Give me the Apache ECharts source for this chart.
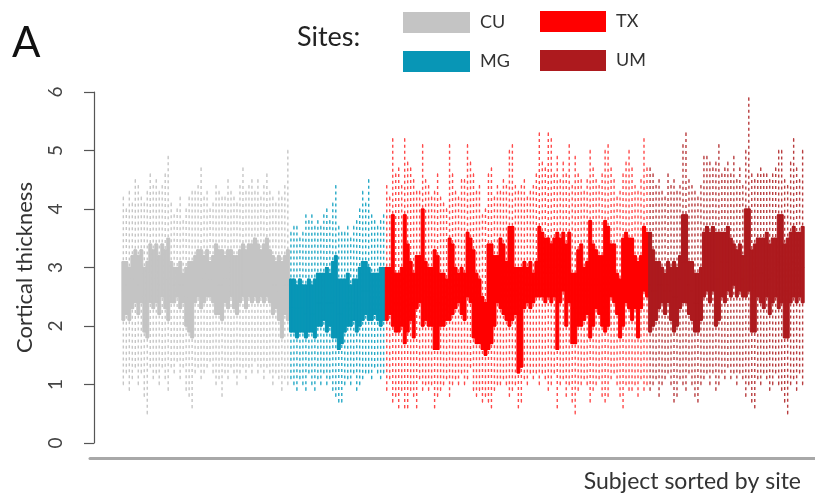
<!DOCTYPE html>
<html>
<head>
<meta charset="utf-8">
<script src="https://cdn.jsdelivr.net/npm/echarts/dist/echarts.min.js"></script>
<style>
  html, body { margin: 0; padding: 0; background: #ffffff; }
  #chart { width: 815px; height: 502px; }
</style>
</head>
<body>
<div id="chart"></div>
<script>
// Per-subject cortical thickness summaries: [min, Q1, median, Q3, max]
const sites = ['CU', 'MG', 'TX', 'UM'];

const cuBoxes = [
  [1.0,2.1,2.6,3.1,4.2],[1.2,2.2,2.7,3.1,4.0],[0.9,2.1,2.6,3.0,4.3],[1.1,2.3,2.8,3.2,4.1],
  [1.3,2.4,2.8,3.3,4.5],[1.0,2.2,2.7,3.2,4.4],[1.2,2.4,2.9,3.3,4.2],[0.8,1.9,2.5,3.0,4.1],
  [0.5,1.8,2.4,3.1,4.3],[1.3,2.4,2.9,3.4,4.6],[1.1,2.3,2.8,3.3,4.4],[1.2,2.4,2.9,3.4,4.5],
  [1.0,2.2,2.7,3.2,4.3],[1.3,2.5,2.9,3.4,4.4],[1.1,2.3,2.8,3.3,4.6],[0.9,2.1,2.8,3.5,4.9],
  [1.3,2.4,2.8,3.1,4.1],[1.2,2.4,2.7,3.0,3.9],[1.4,2.5,2.8,3.0,4.0],[1.1,2.3,2.7,3.1,4.2],
  [1.3,2.4,2.7,2.9,3.8],[0.9,2.0,2.5,3.0,4.0],[0.8,1.9,2.5,3.1,4.2],[0.6,1.8,2.5,3.1,4.3],
  [1.2,2.4,2.8,3.2,4.3],[1.3,2.5,2.9,3.3,4.4],[1.1,2.3,2.8,3.3,4.7],[1.2,2.4,2.8,3.2,4.2],
  [1.3,2.5,2.9,3.3,4.3],[1.4,2.5,2.8,3.1,4.0],[1.2,2.4,2.8,3.2,4.1],[1.0,2.2,2.8,3.4,4.4],
  [1.1,2.2,2.7,3.3,4.3],[0.8,2.1,2.7,3.3,4.2],[1.2,2.4,2.8,3.2,4.2],[1.1,2.3,2.8,3.3,4.5],
  [1.3,2.5,2.9,3.3,4.3],[1.2,2.3,2.8,3.2,4.2],[1.0,2.2,2.7,3.2,4.1],[1.2,2.4,2.8,3.3,4.4],
  [1.3,2.5,2.9,3.4,4.7],[1.1,2.3,2.8,3.3,4.3],[1.3,2.5,2.9,3.4,4.4],[1.2,2.4,2.9,3.4,4.5],
  [1.4,2.5,3.0,3.5,4.3],[1.2,2.4,2.9,3.4,4.5],[1.3,2.5,2.9,3.3,4.2],[1.1,2.4,2.9,3.4,4.4],
  [1.3,2.5,3.0,3.5,4.6],[1.2,2.4,2.9,3.3,4.3],[1.0,2.2,2.7,3.2,4.2],[1.2,2.3,2.7,3.1,4.1],
  [1.1,2.1,2.6,3.2,4.3],[0.9,1.8,2.5,3.1,4.2],[1.1,2.2,2.7,3.2,4.4],[1.0,2.1,2.7,3.3,5.0]
];

const mgBoxes = [
  [1.1,1.9,2.3,2.8,3.6],[1.0,1.9,2.3,2.8,3.7],[0.9,1.8,2.3,2.7,3.7],[1.1,1.9,2.3,2.8,3.5],
  [1.0,1.9,2.3,2.7,3.6],[0.9,1.8,2.2,2.7,3.9],[1.2,1.9,2.3,2.8,3.8],[1.0,1.9,2.2,2.7,3.9],
  [0.9,1.8,2.2,2.8,3.7],[1.1,2.0,2.4,2.9,3.8],[1.0,2.0,2.4,2.9,3.7],[1.2,2.1,2.5,2.9,3.9],
  [1.0,1.9,2.4,3.0,4.0],[1.1,2.0,2.4,2.9,3.8],[0.9,1.8,2.4,3.1,4.1],[0.8,1.8,2.5,3.2,4.4],
  [0.7,1.6,2.2,2.8,3.7],[0.7,1.7,2.2,2.8,3.6],[1.0,1.9,2.3,2.8,3.6],[1.1,2.0,2.4,2.9,3.7],
  [1.0,2.0,2.3,2.7,3.5],[1.2,2.1,2.4,2.8,3.7],[0.9,1.9,2.3,2.8,3.8],[1.0,2.0,2.5,3.0,4.0],
  [1.1,2.1,2.6,3.1,4.3],[1.2,2.2,2.6,3.1,4.1],[1.2,2.1,2.6,3.0,4.5],[1.1,2.1,2.5,2.9,3.9],
  [1.3,2.2,2.5,2.9,3.8],[1.2,2.1,2.5,2.9,3.7],[1.1,2.0,2.5,3.0,3.8],[1.2,2.1,2.6,3.0,3.9]
];

const txBoxes = [
  [0.9,2.1,2.6,3.0,4.4],[1.1,2.2,2.6,3.0,4.2],[0.7,2.0,2.9,3.9,5.2],[0.8,1.9,2.4,2.9,4.6],
  [0.6,1.9,2.4,2.9,4.7],[0.9,2.0,2.5,3.0,4.4],[0.6,1.7,2.8,3.9,5.2],[0.6,1.9,2.6,3.4,4.8],
  [0.9,2.1,2.6,3.1,4.7],[0.8,1.8,2.4,2.9,4.5],[0.6,2.3,2.7,3.2,4.3],[1.1,2.4,2.8,3.2,4.3],
  [0.9,2.0,3.0,4.0,5.1],[1.0,2.1,2.6,3.1,4.5],[0.9,2.0,2.5,3.0,4.4],[1.0,2.0,2.5,3.0,4.2],
  [0.6,1.6,2.5,3.3,4.3],[0.8,1.6,2.4,3.2,4.6],[0.9,2.0,2.4,2.9,4.2],[1.0,2.0,2.5,2.9,4.1],
  [1.1,2.1,2.5,2.8,4.0],[0.8,2.1,2.8,3.5,5.1],[1.0,2.2,2.8,3.4,4.6],[1.1,2.3,2.7,3.0,4.3],
  [1.0,2.4,2.7,2.9,4.2],[1.2,2.2,2.6,3.0,4.5],[1.0,2.1,2.5,2.9,4.5],[1.1,2.5,3.0,3.6,5.1],
  [1.3,2.4,2.9,3.5,4.8],[0.9,1.8,2.5,3.3,4.6],[0.8,1.7,2.3,2.9,4.3],[0.9,1.7,2.2,2.8,4.4],
  [0.7,1.6,2.0,2.5,3.9],[0.8,1.5,2.0,2.4,4.0],[0.7,1.6,2.5,3.4,4.6],[0.6,1.7,2.5,3.4,4.7],
  [0.9,2.0,2.6,3.2,4.2],[1.0,2.4,2.8,3.2,4.4],[1.0,2.3,2.9,3.5,4.3],[1.1,2.2,2.8,3.4,4.5],
  [1.0,2.1,2.6,3.1,4.4],[0.8,2.0,2.8,3.7,5.0],[0.9,2.1,2.9,3.7,5.1],[1.0,2.2,2.6,3.0,4.4],
  [0.6,1.2,2.1,3.0,4.3],[0.7,1.3,2.2,3.0,4.4],[1.1,2.3,2.7,3.1,4.5],[1.0,2.4,2.7,3.0,4.2],
  [1.2,2.3,2.7,3.1,4.3],[1.1,2.4,2.7,2.9,4.4],[1.2,2.5,2.8,3.1,4.6],[1.0,2.5,3.1,3.7,5.3],
  [1.2,2.5,3.1,3.6,4.8],[1.1,2.4,2.9,3.5,4.7],[0.9,2.5,3.0,3.5,5.3],[1.0,2.4,2.9,3.4,5.2],
  [1.2,2.5,3.0,3.5,4.6],[0.6,1.6,2.6,3.6,4.9],[1.0,2.4,3.0,3.5,4.5],[1.1,2.6,3.1,3.6,4.8],
  [0.8,2.0,2.7,3.4,4.6],[1.0,2.4,3.0,3.6,5.1],[0.7,1.7,2.3,2.9,4.4],[0.5,1.7,2.3,2.9,4.9],
  [0.9,2.0,2.7,3.3,4.6],[1.0,2.0,2.7,3.4,4.5],[1.1,2.1,2.6,3.0,4.3],[1.0,2.2,2.6,3.1,4.5],
  [0.7,1.8,2.8,3.8,5.0],[0.9,2.0,2.7,3.4,4.7],[1.0,2.3,2.8,3.3,4.5],[1.1,2.2,2.7,3.2,4.4],
  [0.8,2.0,2.6,3.2,4.6],[0.7,1.9,2.8,3.8,5.0],[0.8,2.0,2.9,3.7,5.1],[1.1,2.5,2.9,3.4,4.7],
  [1.2,2.4,2.9,3.4,4.5],[1.0,2.2,2.6,2.9,4.2],[0.8,1.8,2.3,2.8,4.3],[0.6,2.0,2.8,3.5,4.6],
  [1.0,2.4,3.0,3.6,4.8],[0.9,2.3,2.9,3.5,5.0],[0.9,2.1,2.8,3.5,4.7],[1.0,2.3,2.7,3.2,4.4],
  [0.8,1.8,2.5,3.1,4.3],[1.1,2.3,2.7,3.2,4.5],[0.9,2.6,3.1,3.7,5.2],[1.0,2.5,3.1,3.6,4.7]
];

const umBoxes = [
  [0.9,1.9,2.7,3.6,4.7],[1.0,2.0,2.6,3.3,4.6],[1.1,2.1,2.6,3.1,4.4],[0.8,2.3,2.7,3.1,4.5],
  [1.0,2.4,2.7,3.0,4.3],[1.1,2.2,2.6,2.9,4.2],[1.2,2.4,2.7,3.1,4.6],[1.0,2.1,2.6,3.0,4.4],
  [0.7,1.9,2.5,3.1,4.5],[0.8,2.0,2.5,3.0,4.3],[1.1,2.3,2.8,3.2,4.4],[1.0,2.4,3.1,3.9,5.1],
  [0.9,2.4,3.1,3.9,5.3],[1.2,2.2,2.7,3.1,4.5],[1.0,2.1,2.6,3.1,4.4],[0.8,1.9,2.4,2.9,4.3],
  [0.7,1.9,2.4,2.9,4.2],[1.0,2.1,2.6,3.0,4.4],[1.1,2.5,3.1,3.6,4.9],[1.2,2.6,3.2,3.7,4.9],
  [1.0,2.4,3.0,3.6,4.8],[1.2,2.6,3.1,3.7,4.7],[0.9,2.0,2.8,3.6,4.8],[1.0,2.1,2.8,3.6,5.1],
  [1.2,2.5,3.1,3.6,4.6],[1.1,2.4,3.0,3.6,4.7],[1.3,2.6,3.1,3.7,4.8],[1.1,2.5,3.0,3.5,4.6],
  [1.2,2.7,3.0,3.4,4.9],[1.0,2.5,2.9,3.3,4.5],[1.2,2.6,3.0,3.4,4.7],[1.1,2.5,2.8,3.2,4.4],
  [0.8,2.5,3.2,4.0,5.0],[1.0,2.6,3.3,4.0,5.9],[0.7,1.9,2.6,3.3,4.6],[0.6,1.9,2.6,3.4,4.5],
  [1.1,2.5,3.0,3.5,4.6],[1.0,2.4,2.9,3.5,4.7],[1.2,2.3,2.9,3.5,4.6],[1.1,2.5,3.0,3.6,4.6],
  [0.9,2.2,2.8,3.4,4.5],[1.0,2.4,2.9,3.5,4.6],[1.2,2.5,3.0,3.5,4.7],[1.0,2.3,3.1,3.9,5.0],
  [0.9,2.4,3.2,3.9,5.0],[0.7,1.8,2.6,3.4,4.5],[0.5,1.8,2.6,3.5,4.4],[1.0,2.4,3.0,3.6,4.8],
  [1.1,2.5,3.1,3.7,5.2],[0.9,2.4,3.0,3.6,4.7],[1.2,2.5,3.0,3.6,4.5],[1.0,2.4,3.0,3.7,5.0]
];

const yTicks = [0, 1, 2, 3, 4, 5, 6];

const siteBoxes = { CU: cuBoxes, MG: mgBoxes, TX: txBoxes, UM: umBoxes };
const boxColors = { CU: '#c4c4c4', MG: '#0896b6', TX: '#ff0000', UM: '#ad1a1e' };
const whiskerColors = { CU: '#c6c6c6', MG: '#26a9c6', TX: '#ff4a4a', UM: '#b83c3e' };

const FONT = 'Lato, "Open Sans", sans-serif';

// One category per subject, subjects ordered site by site
const subjects = [];
const series = [];
let offset = 0;
sites.forEach(function (site) {
  const rows = siteBoxes[site].map(function (b, k) { return [offset + k].concat(b); });
  rows.forEach(function (r) { subjects.push('S' + (r[0] + 1)); });

  // dashed whiskers spanning min..max (1px wide so the end caps vanish)
  series.push({
    type: 'boxplot',
    name: site,
    xAxisIndex: 0, yAxisIndex: 0,
    encode: { x: 0, y: [1, 2, 3, 4, 5] },
    data: rows,
    boxWidth: [1, 1],
    silent: true,
    z: 2,
    itemStyle: { color: 'transparent', borderColor: whiskerColors[site], borderWidth: 1.4, borderType: [3, 3] }
  });
  // solid interquartile box drawn over the whiskers
  series.push({
    type: 'boxplot',
    name: site,
    xAxisIndex: 0, yAxisIndex: 0,
    encode: { x: 0, y: [1, 2, 3, 4, 5] },
    data: rows.map(function (r) { return [r[0], r[2], r[2], r[3], r[4], r[4]]; }),
    boxWidth: ['100%', '100%'],
    silent: true,
    z: 3,
    itemStyle: { color: boxColors[site], borderColor: boxColors[site], borderWidth: 1 }
  });
  offset += rows.length;
});

const legendText = { fontFamily: FONT, fontSize: 18, color: '#333', padding: [0, 0, 0, 5] };
function legendItems(names) {
  return names.map(function (n) {
    return { name: n, icon: 'rect', itemStyle: { color: boxColors[n], borderWidth: 0 } };
  });
}

const chart = echarts.init(document.getElementById('chart'), null, { renderer: 'canvas' });
chart.setOption({
  animation: false,
  backgroundColor: '#ffffff',
  title: [
    { text: 'A', left: 12, top: 22, padding: 0,
      textStyle: { fontFamily: FONT, fontSize: 42, fontWeight: 'normal', color: '#111' } },
    { text: 'Sites:', left: 297, top: 24, padding: 0,
      textStyle: { fontFamily: FONT, fontSize: 27, fontWeight: 'normal', color: '#222' } },
    { text: 'Subject sorted by site', right: 14, top: 470, padding: 0,
      textStyle: { fontFamily: FONT, fontSize: 23, fontWeight: 'normal', color: '#333' } }
  ],
  legend: [
    { left: 403, top: 12, padding: 0, orient: 'vertical', itemWidth: 67, itemHeight: 21, itemGap: 18,
      selectedMode: false, data: legendItems(['CU', 'MG']), textStyle: legendText },
    { left: 540, top: 11, padding: 0, orient: 'vertical', itemWidth: 66, itemHeight: 21, itemGap: 18,
      selectedMode: false, data: legendItems(['TX', 'UM']), textStyle: legendText }
  ],
  grid: [
    { left: 122, right: 11, top: 92, bottom: 59 },
    { left: 90, right: 0, top: 92, bottom: 44 }
  ],
  xAxis: [
    { gridIndex: 0, type: 'category', data: subjects, show: false, boundaryGap: true },
    { gridIndex: 1, type: 'value', min: 0, max: 1,
      axisLine: { show: true, lineStyle: { color: '#a8a8a8', width: 3 } },
      axisTick: { show: false }, axisLabel: { show: false }, splitLine: { show: false } }
  ],
  yAxis: [
    { gridIndex: 0, type: 'value', min: yTicks[0], max: yTicks[yTicks.length - 1], interval: 1,
      offset: 28,
      name: 'Cortical thickness', nameLocation: 'middle', nameGap: 58, nameRotate: 90,
      nameTextStyle: { fontFamily: FONT, fontSize: 22, color: '#333' },
      axisLine: { show: true, lineStyle: { color: '#555', width: 1.2 } },
      axisTick: { show: true, length: 10, lineStyle: { color: '#555', width: 1.2 } },
      axisLabel: { rotate: 90, margin: 29, fontFamily: FONT, fontSize: 19, color: '#444' },
      splitLine: { show: false } },
    { gridIndex: 1, type: 'value', show: false }
  ],
  series: series
});
</script>
</body>
</html>
